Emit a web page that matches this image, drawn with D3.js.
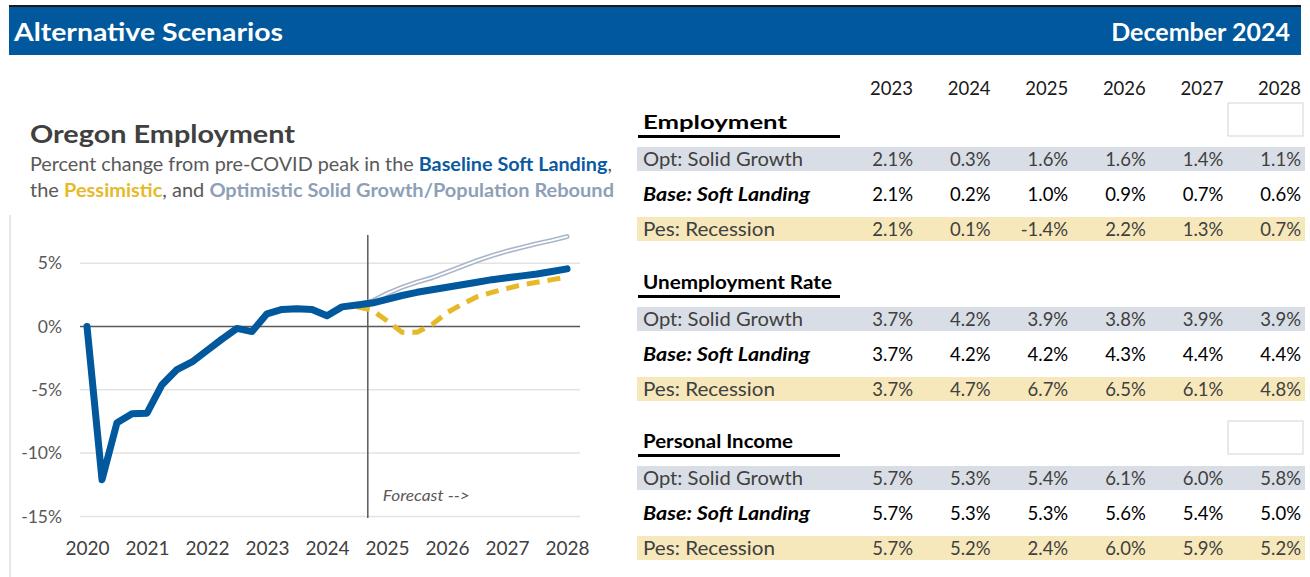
<!DOCTYPE html>
<html>
<head>
<meta charset="utf-8">
<script src="https://cdn.jsdelivr.net/npm/d3@7"></script>
<style>
  html, body { margin: 0; padding: 0; background: #fff; }
  svg { display: block; font-family: Lato, "Open Sans", sans-serif; }
</style>
</head>
<body>
<svg id="chart" width="1310" height="577"></svg>
<script>
// ---- Chart series: Oregon employment, % change from pre-COVID peak (quarterly, 2020Q1–2028Q1)
const quarters = [
  2020.00, 2020.25, 2020.50, 2020.75,
  2021.00, 2021.25, 2021.50, 2021.75,
  2022.00, 2022.25, 2022.50, 2022.75,
  2023.00, 2023.25, 2023.50, 2023.75,
  2024.00, 2024.25, 2024.50, 2024.75,
  2025.00, 2025.25, 2025.50, 2025.75,
  2026.00, 2026.25, 2026.50, 2026.75,
  2027.00, 2027.25, 2027.50, 2027.75,
  2028.00
];
const baseline = [
  0.0, -12.1, -7.6, -6.9,
  -6.85, -4.6, -3.4, -2.8,
  -1.9, -1.0, -0.15, -0.4,
  1.0, 1.35, 1.4, 1.35,
  0.85, 1.55, 1.7, 1.85,
  2.15, 2.45, 2.7, 2.9,
  3.1, 3.3, 3.5, 3.7,
  3.85, 4.0, 4.15, 4.35,
  4.55
];
const optimistic = [
  null, null, null, null, null, null, null, null, null,
  null, null, null, null, null, null, null, null, null,
  1.7, 2.0,
  2.6, 3.1, 3.5, 3.85,
  4.3, 4.75, 5.2, 5.6,
  5.95, 6.25, 6.55, 6.8,
  7.1
];
const pessimistic = [
  null, null, null, null, null, null, null, null, null,
  null, null, null, null, null, null, null, null, null,
  1.55, 1.3,
  0.45, -0.45, -0.45, 0.15,
  1.1, 1.75, 2.35, 2.7,
  3.0, 3.3, 3.5, 3.7,
  3.9
];
const xTickYears = [2020, 2021, 2022, 2023, 2024, 2025, 2026, 2027, 2028];
const yTickValues = [-15, -10, -5, 0, 5];
const forecastStart = 2024.68;

// ---- Table values (annual % change / rate)
const tableYears = [2023, 2024, 2025, 2026, 2027, 2028];
const scenarioLabels = ["Opt: Solid Growth", "Base: Soft Landing", "Pes: Recession"];
const sectionTitles = ["Employment", "Unemployment Rate", "Personal Income"];
const employmentOpt  = [2.1, 0.3, 1.6, 1.6, 1.4, 1.1];
const employmentBase = [2.1, 0.2, 1.0, 0.9, 0.7, 0.6];
const employmentPes  = [2.1, 0.1, -1.4, 2.2, 1.3, 0.7];
const unemploymentOpt  = [3.7, 4.2, 3.9, 3.8, 3.9, 3.9];
const unemploymentBase = [3.7, 4.2, 4.2, 4.3, 4.4, 4.4];
const unemploymentPes  = [3.7, 4.7, 6.7, 6.5, 6.1, 4.8];
const incomeOpt  = [5.7, 5.3, 5.4, 6.1, 6.0, 5.8];
const incomeBase = [5.7, 5.3, 5.3, 5.6, 5.4, 5.0];
const incomePes  = [5.7, 5.2, 2.4, 6.0, 5.9, 5.2];

// ---- Colours
const BLUE = "#01589c";
const GOLD = "#e6b92a";
const OPT = "#a9b6c9";
const GRID = "#e3e3e3";
const AXIS = "#595959";

const svg = d3.select("#chart");

// ---- Banner
svg.append("rect").attr("x", 9).attr("y", 5).attr("width", 1292).attr("height", 2).attr("fill", "#1a1a1a");
svg.append("rect").attr("x", 9).attr("y", 7).attr("width", 1292).attr("height", 48).attr("fill", BLUE);
svg.append("text").attr("x", 14).attr("y", 41)
  .attr("fill", "#fff").attr("font-size", 25).attr("font-weight", 700)
  .attr("textLength", 269).attr("lengthAdjust", "spacingAndGlyphs")
  .text("Alternative Scenarios");
svg.append("text").attr("x", 1290).attr("y", 41).attr("text-anchor", "end")
  .attr("fill", "#fff").attr("font-size", 25).attr("font-weight", 700)
  .text("December 2024");

// left panel edge
svg.append("line").attr("x1", 10).attr("x2", 10).attr("y1", 215).attr("y2", 577)
  .attr("stroke", "#d0d0d0").attr("stroke-width", 1);

// ---- Chart title and subtitle
svg.append("text").attr("x", 30).attr("y", 143)
  .attr("fill", "#404040").attr("font-size", 24).attr("font-weight", 700)
  .attr("textLength", 265).attr("lengthAdjust", "spacingAndGlyphs")
  .text("Oregon Employment");

const sub1 = svg.append("text").attr("x", 30).attr("y", 171)
  .attr("fill", "#595959").attr("font-size", 18.5)
  .attr("textLength", 582).attr("lengthAdjust", "spacingAndGlyphs");
sub1.append("tspan").text("Percent change from pre-COVID peak in the ");
sub1.append("tspan").attr("fill", "#0b5aa0").attr("font-weight", 700).text("Baseline Soft Landing");
sub1.append("tspan").text(",");

const sub2 = svg.append("text").attr("x", 30).attr("y", 197)
  .attr("fill", "#595959").attr("font-size", 18.5)
  .attr("textLength", 584).attr("lengthAdjust", "spacingAndGlyphs");
sub2.append("tspan").text("the ");
sub2.append("tspan").attr("fill", GOLD).attr("font-weight", 700).text("Pessimistic");
sub2.append("tspan").text(", and ");
sub2.append("tspan").attr("fill", "#8e9fb8").attr("font-weight", 700).text("Optimistic Solid Growth/Population Rebound");

// ---- Scales
const x = d3.scaleLinear().domain([2020, 2028]).range([87, 567]);
const y = d3.scaleLinear().domain([-15, 5]).range([516.4, 263.2]);
const plotLeft = 80, plotRight = 580;

// gridlines
svg.append("g").selectAll("line")
  .data(yTickValues.filter(v => v !== 0))
  .join("line")
  .attr("x1", plotLeft).attr("x2", plotRight)
  .attr("y1", d => y(d)).attr("y2", d => y(d))
  .attr("stroke", GRID).attr("stroke-width", 1.5);

// y axis labels
const yAxis = svg.append("g").attr("transform", `translate(${plotLeft},0)`)
  .call(d3.axisLeft(y).tickValues(yTickValues).tickFormat(d => d + "%").tickSize(0).tickPadding(18));
yAxis.select(".domain").remove();
yAxis.selectAll("text").attr("font-size", 17.5).attr("fill", AXIS).attr("font-family", "Lato, sans-serif");

// x axis labels
const xAxis = svg.append("g").attr("transform", "translate(0,541)")
  .call(d3.axisBottom(x).tickValues(xTickYears).tickFormat(d3.format("d")).tickSize(0).tickPadding(0));
xAxis.select(".domain").remove();
xAxis.selectAll("text").attr("font-size", 19).attr("fill", "#404040").attr("font-family", "Lato, sans-serif");

// zero line
svg.append("line").attr("x1", plotLeft).attr("x2", plotRight)
  .attr("y1", y(0)).attr("y2", y(0))
  .attr("stroke", AXIS).attr("stroke-width", 1.5);

// forecast divider
svg.append("line").attr("x1", x(forecastStart)).attr("x2", x(forecastStart))
  .attr("y1", 235).attr("y2", 518)
  .attr("stroke", AXIS).attr("stroke-width", 1.5);
svg.append("text").attr("x", x(forecastStart) + 15).attr("y", 501)
  .attr("font-size", 15.5).attr("font-style", "italic").attr("fill", AXIS)
  .attr("textLength", 87).attr("lengthAdjust", "spacingAndGlyphs")
  .text("Forecast -->");

// ---- Lines
const line = d3.line()
  .defined(d => d[1] !== null)
  .x(d => x(d[0])).y(d => y(d[1]));

const pts = arr => quarters.map((q, i) => [q, arr[i]]);

// optimistic: outlined double stroke
svg.append("path").datum(pts(optimistic)).attr("d", line)
  .attr("fill", "none").attr("stroke", OPT).attr("stroke-width", 5)
  .attr("stroke-linejoin", "round").attr("stroke-linecap", "round");
svg.append("path").datum(pts(optimistic)).attr("d", line)
  .attr("fill", "none").attr("stroke", "#fff").attr("stroke-width", 1.8)
  .attr("stroke-linejoin", "round").attr("stroke-linecap", "round");

// pessimistic: dashed gold
svg.append("path").datum(pts(pessimistic)).attr("d", line)
  .attr("fill", "none").attr("stroke", GOLD).attr("stroke-width", 5)
  .attr("stroke-dasharray", "13,8").attr("stroke-linejoin", "round");

// baseline: heavy blue
svg.append("path").datum(pts(baseline)).attr("d", line)
  .attr("fill", "none").attr("stroke", BLUE).attr("stroke-width", 7)
  .attr("stroke-linejoin", "round").attr("stroke-linecap", "round");

// ---- Table
const col = d3.scalePoint().domain(tableYears).range([913, 1301]);
const rowLeft = 637, rowRight = 1305, labelX = 643;
const fmt = v => v.toFixed(1) + "%";

svg.append("g").selectAll("text")
  .data(tableYears).join("text")
  .attr("x", d => col(d)).attr("y", 95).attr("text-anchor", "end")
  .attr("font-size", 18.5).attr("fill", "#1a1a1a")
  .text(d => d);

// empty note boxes
[[1228, 103], [1228, 421]].forEach(([bx, by]) => {
  svg.append("rect").attr("x", bx).attr("y", by).attr("width", 75).attr("height", 33)
    .attr("fill", "#fff").attr("stroke", "#d4d4d4").attr("stroke-width", 1);
});

const sections = [
  { title: sectionTitles[0], top: 129, rows: [employmentOpt, employmentBase, employmentPes], width: 144 },
  { title: sectionTitles[1], top: 289, rows: [unemploymentOpt, unemploymentBase, unemploymentPes], width: 189 },
  { title: sectionTitles[2], top: 448, rows: [incomeOpt, incomeBase, incomePes], width: 150 }
];
const rowStyles = [
  { band: "#d9dee6", weight: 400, style: "normal", color: "#404040", width: 160 },
  { band: null, weight: 700, style: "italic", color: "#000", width: 167 },
  { band: "#f7e8bb", weight: 400, style: "normal", color: "#404040", width: 132 }
];

sections.forEach(sec => {
  const g = svg.append("g");
  g.append("text").attr("x", labelX).attr("y", sec.top)
    .attr("font-size", 19.5).attr("font-weight", 700).attr("fill", "#000")
    .attr("textLength", sec.width).attr("lengthAdjust", "spacingAndGlyphs")
    .text(sec.title);
  g.append("rect").attr("x", 638).attr("y", sec.top + 6).attr("width", 202).attr("height", 3)
    .attr("fill", "#000");

  sec.rows.forEach((vals, r) => {
    const cy = sec.top + 30 + r * 35;
    const st = rowStyles[r];
    if (st.band) {
      g.append("rect").attr("x", rowLeft).attr("y", cy - 12).attr("width", rowRight - rowLeft).attr("height", 24)
        .attr("fill", st.band);
    }
    g.append("text").attr("x", labelX).attr("y", cy + 6.5)
      .attr("font-size", 19.5).attr("font-weight", st.weight).attr("font-style", st.style)
      .attr("fill", st.color)
      .attr("textLength", st.width).attr("lengthAdjust", "spacingAndGlyphs")
      .text(scenarioLabels[r]);
    g.append("g").selectAll("text").data(vals).join("text")
      .attr("x", (d, i) => col(tableYears[i])).attr("y", cy + 6.5)
      .attr("text-anchor", "end").attr("font-size", 18.5).attr("fill", st.color)
      .text(fmt);
  });
});
</script>
</body>
</html>
